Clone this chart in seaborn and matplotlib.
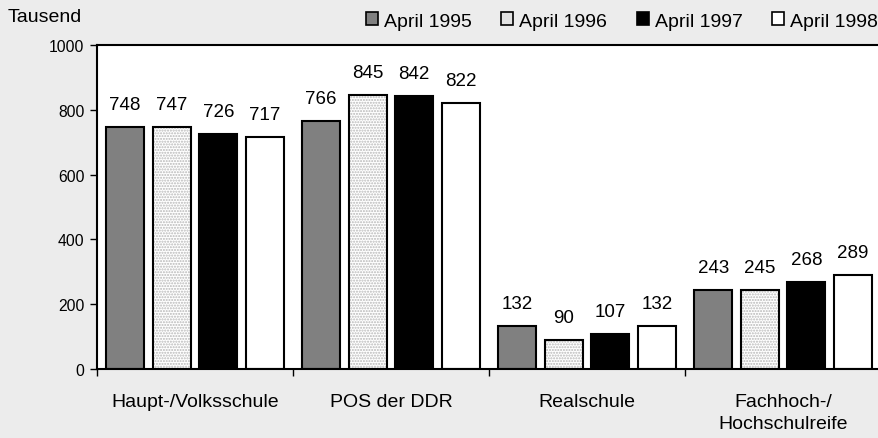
import pandas as pd
import seaborn as sns
import matplotlib.pyplot as plt
from matplotlib.patches import Rectangle, Patch

schulen = ["Haupt-/Volksschule", "POS der DDR", "Realschule", "Fachhoch-/\nHochschulreife"]
jahre = ["April 1995", "April 1996", "April 1997", "April 1998"]
werte_1995 = [748, 766, 132, 243]
werte_1996 = [747, 845, 90, 245]
werte_1997 = [726, 842, 107, 268]
werte_1998 = [717, 822, 132, 289]
yticks = [0, 200, 400, 600, 800, 1000]

farben = ["#808080", "#e6e6e6", "#000000", "#ffffff"]
bg = "#ececec"

rows = []
for jahr, werte in zip(jahre, [werte_1995, werte_1996, werte_1997, werte_1998]):
    for schule, w in zip(schulen, werte):
        rows.append({"Schule": schule, "Jahr": jahr, "Wert": w})
df = pd.DataFrame(rows)

sns.set_style("ticks")
plt.rcParams["font.family"] = ["Liberation Sans", "DejaVu Sans"]
plt.rcParams["text.color"] = "black"
plt.rcParams["xtick.color"] = "black"
plt.rcParams["ytick.color"] = "black"
plt.rcParams["axes.labelcolor"] = "black"

fig = plt.figure(figsize=(8.79, 4.39), dpi=100, facecolor=bg)
ax = fig.add_axes([97 / 879, 1 - 370 / 439, 784 / 879, 324 / 439])
ax.set_facecolor("white")

sns.barplot(data=df, x="Schule", y="Wert", hue="Jahr", palette=farben,
            edgecolor="black", linewidth=1.5, width=0.95, gap=0.18,
            legend=False, ax=ax)

# stipple pattern for 1996 bars
for p in ax.containers[1]:
    p.set_facecolor("white")
    p.set_edgecolor("#b8b8b8")
    p.set_hatch("......")
    p.set_linewidth(0)
    ax.add_patch(Rectangle(p.get_xy(), p.get_width(), p.get_height(),
                           fill=False, edgecolor="black", linewidth=1.5, zorder=p.get_zorder() + 0.1))

for c in ax.containers:
    ax.bar_label(c, padding=10, fontsize=13.5, color="black")

ax.set_xlim(-0.5, 3.5)
ax.set_ylim(0, 1000)
ax.set_yticks(yticks)
ax.tick_params(axis="y", labelsize=11.3, length=5, width=1, pad=4, colors="black")
ax.set_xticks(range(4))
ax.set_xticklabels(schulen, fontsize=14, color="black")
for lbl in ax.get_xticklabels():
    lbl.set_linespacing(1.45)
ax.tick_params(axis="x", length=0, pad=17)
ax.set_xticks([-0.5, 0.5, 1.5, 2.5], minor=True)
ax.tick_params(axis="x", which="minor", length=5, width=1, direction="out", colors="black")
ax.set_xlabel("")
ax.set_ylabel("")
for s in ax.spines.values():
    s.set_linewidth(1.5)
    s.set_color("black")

fig.text(8 / 879, 1 - 17 / 439, "Tausend", fontsize=14, va="center", ha="left", color="black")

handles = []
for f in farben:
    if f == "#e6e6e6":
        handles.append(Patch(facecolor="#e2e2e2", edgecolor="black", linewidth=1.2))
    else:
        handles.append(Patch(facecolor=f, edgecolor="black", linewidth=1.2))
fig.legend(handles, jahre, loc="center left", bbox_to_anchor=(366 / 879, 1 - 22 / 439),
           ncol=4, frameon=False, fontsize=14, handlelength=0.62, handleheight=0.62,
           handletextpad=0.3, columnspacing=1.52, borderpad=0, borderaxespad=0,
           labelcolor="black")

fig.savefig("out.png", dpi=100, facecolor=bg)
